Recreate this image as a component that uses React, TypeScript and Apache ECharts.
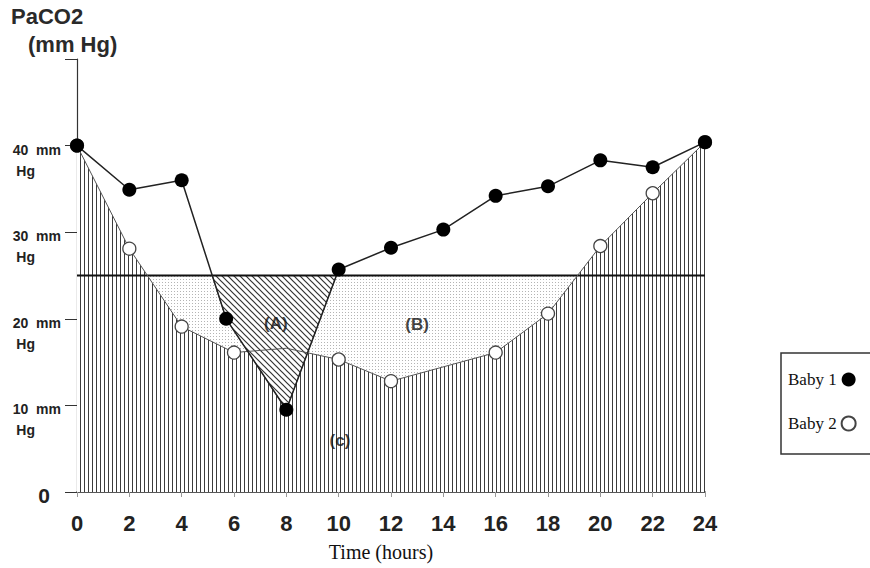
import React, { useEffect, useRef } from 'react';
import * as echarts from 'echarts';

// ---- data ----
const hourTicks = [0, 2, 4, 6, 8, 10, 12, 14, 16, 18, 20, 22, 24];
const baby1Hours = [0, 2, 4, 5.7, 8, 10, 12, 14, 16, 18, 20, 22, 24];
const baby1PaCO2 = [40, 34.9, 36.0, 20.0, 9.5, 25.7, 28.2, 30.3, 34.2, 35.3, 38.3, 37.5, 40.4];
const baby2Hours = [0, 2, 4, 6, 8, 10, 12, 16, 18, 20, 22, 24];
const baby2PaCO2 = [40, 28.1, 19.1, 16.1, 16.6, 15.3, 12.8, 16.1, 20.6, 28.4, 34.5, 40.4];
const baby2HiddenMarkerHours = [8];
const thresholdPaCO2 = 25;
const yTickValues = [0, 10, 20, 30, 40, 50];
const regionLabels = ['(A)', '(B)', '(c)'];
const regionLabelHours = [7.6, 13.0, 10.05];
const regionLabelPaCO2 = [19.5, 19.3, 6.0];

function makePattern(w: number, h: number, draw: (ctx: CanvasRenderingContext2D) => void) {
  const c = document.createElement('canvas');
  c.width = w;
  c.height = h;
  const ctx = c.getContext('2d') as CanvasRenderingContext2D;
  ctx.fillStyle = '#ffffff';
  ctx.fillRect(0, 0, w, h);
  draw(ctx);
  return { image: c, repeat: 'repeat', imageWidth: w, imageHeight: h } as any;
}

// polygon of the part of a polyline below a threshold (closed along the threshold)
function belowThreshold(xs: number[], ys: number[], t: number): number[][] {
  const pts: number[][] = [];
  for (let i = 0; i < xs.length - 1; i++) {
    const x0 = xs[i], y0 = ys[i], x1 = xs[i + 1], y1 = ys[i + 1];
    if (i === 0 && y0 < t) pts.push([x0, y0]);
    if ((y0 - t) * (y1 - t) < 0) {
      const f = (t - y0) / (y1 - y0);
      pts.push([x0 + f * (x1 - x0), t]);
    }
    if (y1 < t) pts.push([x1, y1]);
  }
  return pts;
}

export default function App() {
  const ref = useRef<HTMLDivElement>(null);
  useEffect(() => {
    document.body.style.margin = '0';
    if (!ref.current) return;
    const chart = echarts.init(ref.current, undefined, { renderer: 'svg' });

    const vertPattern = makePattern(4, 4, (ctx) => {
      ctx.fillStyle = '#3c3c3c';
      ctx.fillRect(0, 0, 1, 4);
    });
    const dotPattern = makePattern(3, 3, (ctx) => {
      ctx.fillStyle = '#b4b4b4';
      ctx.fillRect(0, 0, 1, 1);
    });
    const diagPattern = makePattern(6, 6, (ctx) => {
      ctx.strokeStyle = '#333';
      ctx.lineWidth = 1.2;
      ctx.beginPath();
      ctx.moveTo(-1, -1); ctx.lineTo(7, 7);
      ctx.moveTo(-1, 5); ctx.lineTo(1, 7);
      ctx.moveTo(5, -1); ctx.lineTo(7, 1);
      ctx.stroke();
    });

    const baby1Data = baby1Hours.map((h, i) => [h, baby1PaCO2[i]]);
    const baby2Data = baby2Hours.map((h, i) => [h, baby2PaCO2[i]]);
    const baby2Marked = baby2Hours.map((h, i) =>
      baby2HiddenMarkerHours.includes(h)
        ? { value: [h, baby2PaCO2[i]], symbol: 'none' }
        : { value: [h, baby2PaCO2[i]] }
    );
    const thresholdData = [
      [hourTicks[0], thresholdPaCO2],
      [hourTicks[hourTicks.length - 1], thresholdPaCO2],
    ];
    const polyA = belowThreshold(baby1Hours, baby1PaCO2, thresholdPaCO2);
    const labelData = regionLabels.map((n, i) => ({ name: n, value: [regionLabelHours[i], regionLabelPaCO2[i]] }));

    chart.setOption({
      animation: false,
      grid: { left: 77, right: 165, top: 59, bottom: 76 },
      legend: {
        data: ['Baby 1', 'Baby 2'],
        orient: 'vertical',
        left: 781,
        top: 353,
        align: 'right',
        icon: 'circle',
        itemWidth: 14,
        itemHeight: 14,
        itemGap: 27,
        padding: [18, 40, 22, 7],
        borderColor: '#333',
        borderWidth: 1.5,
        textStyle: { fontFamily: 'Liberation Serif', fontSize: 17, color: '#111' },
      },
      xAxis: {
        type: 'value',
        min: 0,
        max: 24,
        interval: 2,
        axisLine: { show: true, lineStyle: { color: '#222', width: 1.5 } },
        axisTick: { show: true, length: 5, lineStyle: { color: '#999' } },
        splitLine: { show: false },
        axisLabel: {
          margin: 20,
          fontSize: 22,
          fontWeight: 'bold',
          fontFamily: 'Liberation Sans',
          color: '#222',
        },
      },
      yAxis: {
        type: 'value',
        min: yTickValues[0],
        max: yTickValues[yTickValues.length - 1],
        interval: 10,
        axisLine: { show: true, lineStyle: { color: '#333', width: 1.2 } },
        axisTick: { show: true, length: 12, lineStyle: { color: '#333' } },
        splitLine: { show: false },
        axisLabel: {
          margin: 16,
          verticalAlign: 'top',
          formatter: (v: number) => {
            if (v === 0) return '{big|0}';
            if (v === yTickValues[yTickValues.length - 1]) return '';
            return '{a|' + v + '  mm}\n{b|Hg}';
          },
          rich: {
            big: { fontSize: 21, fontWeight: 'bold', fontFamily: 'Liberation Sans', color: '#222', lineHeight: 6, padding: [0, 11, 0, 0] },
            a: { fontSize: 14, fontWeight: 'bold', fontFamily: 'Liberation Sans', color: '#222', lineHeight: 8 },
            b: { fontSize: 14, fontWeight: 'bold', fontFamily: 'Liberation Sans', color: '#222', lineHeight: 34, padding: [0, 26, 0, 0] },
          },
        },
      },
      graphic: [
        { type: 'text', left: 11, top: 5, style: { text: 'PaCO2', fontSize: 22, fontWeight: 'bold', fontFamily: 'Liberation Sans', fill: '#2a2a2a' } },
        { type: 'text', left: 28, top: 33, style: { text: '(mm Hg)', fontSize: 22, fontWeight: 'bold', fontFamily: 'Liberation Sans', fill: '#2a2a2a' } },
        { type: 'text', x: 381, y: 552, style: { text: 'Time (hours)', fontSize: 20, fontFamily: 'Liberation Serif', fill: '#111', align: 'center', verticalAlign: 'middle' } },
      ],
      series: [
        {
          name: 'dotted',
          type: 'line',
          data: thresholdData,
          symbol: 'none',
          lineStyle: { width: 0, opacity: 0 },
          areaStyle: { color: dotPattern, opacity: 1 },
          z: 1,
          silent: true,
        },
        {
          name: 'area2',
          type: 'line',
          data: baby2Data,
          symbol: 'none',
          lineStyle: { width: 0, opacity: 0 },
          areaStyle: { color: vertPattern, opacity: 1 },
          z: 2,
          silent: true,
        },
        {
          name: 'regionA',
          type: 'custom',
          data: [[0, 0]],
          z: 3,
          silent: true,
          renderItem: (params: any, api: any) => ({
            type: 'polygon',
            shape: { points: polyA.map((p) => api.coord(p)) },
            style: { fill: diagPattern, stroke: '#333', lineWidth: 0.8 },
          }),
        },
        {
          name: 'threshold',
          type: 'line',
          data: thresholdData,
          symbol: 'none',
          lineStyle: { color: '#111', width: 2 },
          z: 4,
          silent: true,
        },
        {
          name: 'Baby 2',
          type: 'line',
          data: baby2Marked,
          symbol: 'circle',
          symbolSize: 13,
          itemStyle: { color: '#fff', borderColor: '#444', borderWidth: 1.3 },
          lineStyle: { color: '#555', width: 1 },
          z: 5,
        },
        {
          name: 'Baby 1',
          type: 'line',
          data: baby1Data,
          symbol: 'circle',
          symbolSize: 14,
          itemStyle: { color: '#000' },
          lineStyle: { color: '#222', width: 1.5 },
          z: 6,
        },
        {
          name: 'labels',
          type: 'scatter',
          data: labelData,
          symbolSize: 0,
          z: 7,
          silent: true,
          label: {
            show: true,
            position: 'inside',
            formatter: (p: any) => p.name,
            fontSize: 17,
            fontWeight: 'bold',
            fontFamily: 'Liberation Sans',
            color: '#111',
          },
        },
      ],
    });
    return () => chart.dispose();
  }, []);
  return <div ref={ref} style={{ width: 870, height: 568 }} />;
}
